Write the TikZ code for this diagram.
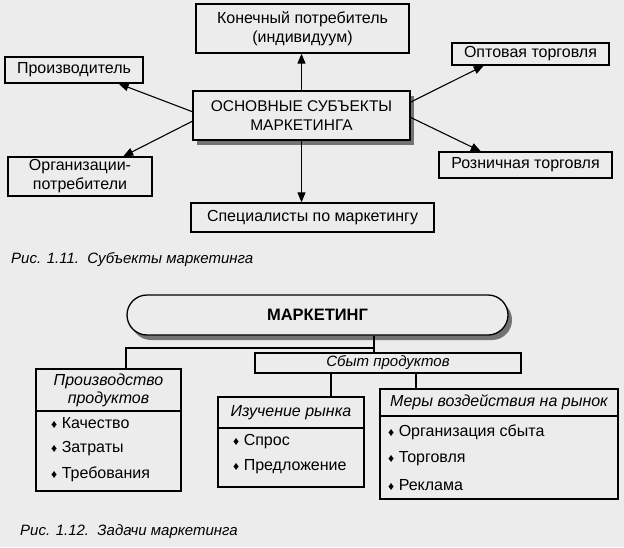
\documentclass[tikz,border=0pt]{standalone}
\usepackage{fontspec}
\setmainfont{Liberation Sans}
\usetikzlibrary{arrows.meta,positioning,calc,shadows}
\definecolor{paper}{HTML}{ECECEC}
\newcommand{\itemmark}{{\fontsize{12}{12}\selectfont ♦}\ }

\begin{document}
\begin{tikzpicture}[x=1pt, y=-1pt,
  box/.style={draw, line width=1.3pt, fill=paper, inner sep=0pt, align=center, font=\fontsize{16}{19}\selectfont},
  shadebox/.style={box, drop shadow={shadow xshift=4pt, shadow yshift=-5pt, fill=black!55, opacity=1}},
  arrow/.style={-{Triangle[length=10pt,width=8pt]}, line width=1.1pt},
  link/.style={line width=1.3pt},
  entry/.style={anchor=west, inner sep=0pt, font=\fontsize{16}{18}\selectfont},
  caption/.style={anchor=base west, inner sep=0pt, font=\fontsize{15}{17}\selectfont\itshape}
]
\fill[paper] (0,0) rectangle (624,547);
\useasboundingbox (0,0) rectangle (624,547);

% Fig. 1.11
\node[box, minimum width=213pt, minimum height=49pt] (cons) at (302.5,28.5) {Конечный потребитель\\(индивидуум)};
\node[box, minimum width=138pt, minimum height=26pt] (maker) at (74,70) {Производитель};
\node[box, minimum width=157pt, minimum height=22pt] (whole) at (530.5,54) {Оптовая торговля};
\node[shadebox, minimum width=217pt, minimum height=49pt, font=\fontsize{15.5}{19}\selectfont] (main) at (301.5,115.5) {ОСНОВНЫЕ СУБЪЕКТЫ\\МАРКЕТИНГА};
\node[box, minimum width=144pt, minimum height=39pt] (orgs) at (80,176.5) {Организации-\\потребители};
\node[box, minimum width=173pt, minimum height=26pt] (retail) at (525.5,165) {Розничная торговля};
\node[box, minimum width=243pt, minimum height=29pt] (spec) at (312.5,217.5) {Специалисты по маркетингу};

\draw[arrow] (main.north) -- (main.north |- cons.south);
\draw[arrow] (main.178) -- (maker.343);
\draw[arrow] (main.7) -- (whole.194);
\draw[arrow] (main.183) -- (orgs.25);
\draw[arrow] (main.359) -- (retail.163);
\draw[arrow] (main.south) -- (main.south |- spec.north);

\node[caption] (cap1) at (11,263) {Рис. 1.11.\ \ Субъекты маркетинга};

% Fig. 1.12
\node[shadebox, rounded corners=20pt, minimum width=381pt, minimum height=40pt, font=\fontsize{16.5}{19}\selectfont\bfseries] (mark) at (317.5,315) {МАРКЕТИНГ};
\node[box, minimum width=266pt, minimum height=20pt, font=\fontsize{15}{18}\selectfont\itshape] (sbyt) at (388,363) {Сбыт продуктов};

\node[box, minimum width=145pt, minimum height=42pt, font=\fontsize{16}{18}\selectfont\itshape] (prodhead) at (108.5,390) {Производство\\продуктов};
\node[box, minimum width=145pt, minimum height=80pt] (prodbody) at (108.5,451) {};
\node[box, minimum width=146pt, minimum height=31pt, font=\fontsize{16}{18}\selectfont\itshape] (izhead) at (291,412.5) {Изучение рынка};
\node[box, minimum width=146pt, minimum height=59pt] (izbody) at (291,457.5) {};
\node[box, minimum width=238pt, minimum height=27pt, font=\fontsize{16}{18}\selectfont\itshape] (merhead) at (499,402.5) {Меры воздействия на рынок};
\node[box, minimum width=238pt, minimum height=83pt] (merbody) at (499,457.5) {};

\coordinate (fork) at (374,348);
\coordinate (prodin) at (126,0);
\coordinate (izin) at (331,0);
\coordinate (merin) at (416,0);
\draw[link] (mark.south -| fork) -- (sbyt.north -| fork);
\draw[link] (fork) -| (prodhead.north -| prodin);
\draw[link] (sbyt.south -| izin) -- (izhead.north -| izin);
\draw[link] (sbyt.south -| merin) -- (merhead.north -| merin);

\node[entry] (quality) at (51,423) {\itemmark Качество};
\node[entry] (costs) at (51,449) {\itemmark Затраты};
\node[entry] (needs) at (51,474) {\itemmark Требования};
\node[entry] (demand) at (233,442) {\itemmark Спрос};
\node[entry] (supply) at (233,467) {\itemmark Предложение};
\node[entry] (sales) at (388,432) {\itemmark Организация сбыта};
\node[entry] (trade) at (388,459) {\itemmark Торговля};
\node[entry] (adv) at (388,485) {\itemmark Реклама};

\node[caption] (cap2) at (20,535) {Рис. 1.12.\ \ Задачи маркетинга};
\end{tikzpicture}
\end{document}
